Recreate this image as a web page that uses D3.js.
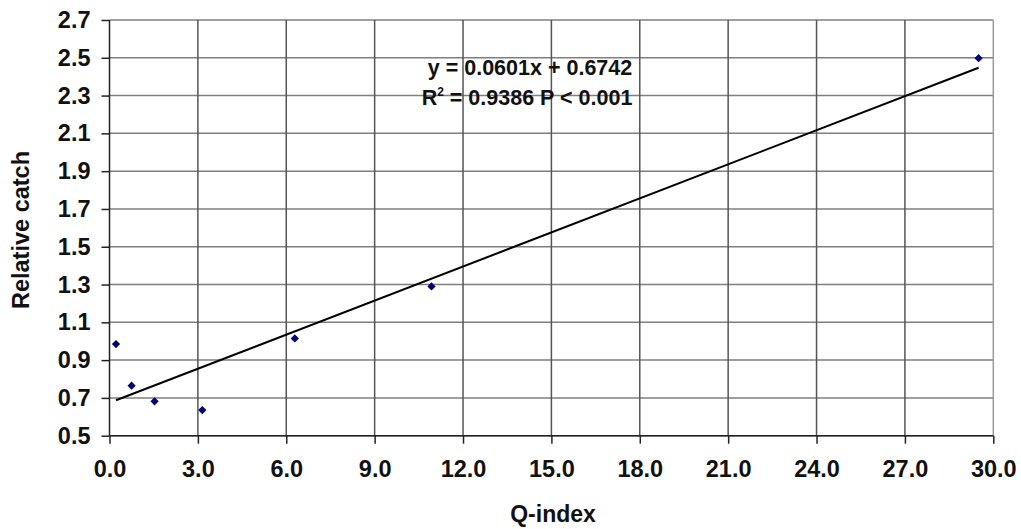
<!DOCTYPE html>
<html>
<head>
<meta charset="utf-8">
<script src="https://cdn.jsdelivr.net/npm/d3@7"></script>
<style>
body { margin: 0; background: #fff; }
text { font-family: Arial, "Liberation Sans", sans-serif; font-weight: bold; fill: #111; }
</style>
</head>
<body>
<svg id="chart" width="1021" height="529"></svg>
<script>
// data
var qIndex = [0.22, 0.75, 1.53, 3.15, 6.29, 10.93, 29.5];
var relCatch = [0.985, 0.765, 0.682, 0.636, 1.015, 1.29, 2.498];
var xTicks = [0, 3, 6, 9, 12, 15, 18, 21, 24, 27, 30];
var yTicks = [0.5, 0.7, 0.9, 1.1, 1.3, 1.5, 1.7, 1.9, 2.1, 2.3, 2.5, 2.7];
var slope = 0.0601;
var intercept = 0.6742;

var svg = d3.select("#chart");

var plotLeft = 109.5, plotRight = 993.3, plotTop = 20, plotBottom = 435.7;

var xScale = d3.scaleLinear()
.domain([0, 30])
.range([plotLeft, plotRight]);

var yScale = d3.scaleLinear()
.domain([0.5, 2.7])
.range([plotBottom, plotTop]);

// gridlines
svg.append("g")
.selectAll("line")
.data(yTicks)
.enter()
.append("line")
.attr("x1", plotLeft)
.attr("x2", plotRight)
.attr("y1", function(d){ return yScale(d); })
.attr("y2", function(d){ return yScale(d); })
.attr("stroke", "#7f7f7f")
.attr("stroke-width", 1.5);

svg.append("g")
.selectAll("line")
.data(xTicks.slice(1))
.enter()
.append("line")
.attr("x1", function(d){ return xScale(d); })
.attr("x2", function(d){ return xScale(d); })
.attr("y1", plotTop)
.attr("y2", plotBottom)
.attr("stroke", function(d){ return d == 30 ? "#9a9a9a" : "#555"; })
.attr("stroke-width", 1.5);

// axes
var yAxis = d3.axisLeft(yScale)
.tickValues(yTicks)
.tickFormat(d3.format(".1f"))
.tickSize(8)
.tickPadding(11);

var xAxis = d3.axisBottom(xScale)
.tickValues(xTicks)
.tickFormat(d3.format(".1f"))
.tickSize(8)
.tickPadding(17);

var gy = svg.append("g")
.attr("transform", "translate(" + plotLeft + ",0)")
.call(yAxis);

var gx = svg.append("g")
.attr("transform", "translate(0," + plotBottom + ")")
.call(xAxis);

[gx, gy].forEach(function(g){
    g.attr("font-size", null).attr("font-family", null);
    g.select(".domain").attr("stroke", "#222").attr("stroke-width", 1.5);
    g.selectAll(".tick line").attr("stroke", "#222").attr("stroke-width", 1.5);
    g.selectAll(".tick text")
    .style("font-size", "23.5px")
    .attr("fill", "#111");
});
gy.select(".domain").attr("d", "M0," + plotBottom + "V" + plotTop);
gx.select(".domain").attr("d", "M" + plotLeft + ",0H" + plotRight);

// trend line
var lineX = [d3.min(qIndex), d3.max(qIndex)];
svg.append("line")
.attr("x1", xScale(lineX[0]))
.attr("y1", yScale(slope * lineX[0] + intercept))
.attr("x2", xScale(lineX[1]))
.attr("y2", yScale(slope * lineX[1] + intercept))
.attr("stroke", "#000")
.attr("stroke-width", 2);

// points (square turned 45deg)
svg.append("g")
.selectAll("path")
.data(qIndex)
.enter()
.append("path")
.attr("d", d3.symbol().type(d3.symbolSquare).size(34))
.attr("transform", function(d, i){ return "translate(" + xScale(d) + "," + yScale(relCatch[i]) + ") rotate(45)"; })
.attr("fill", "#000080");

// equation
svg.append("text")
.attr("x", 530)
.attr("y", 75)
.attr("text-anchor", "middle")
.style("font-size", "21.5px")
.text("y = 0.0601x + 0.6742");

var eq2 = svg.append("text")
.attr("x", 527)
.attr("y", 105)
.attr("text-anchor", "middle")
.style("font-size", "21.5px");
eq2.append("tspan").text("R");
eq2.append("tspan").attr("dy", -9).style("font-size", "12px").text("2");
eq2.append("tspan").attr("dy", 9).text(" = 0.9386 P < 0.001");

// axis titles
svg.append("text")
.attr("x", 553)
.attr("y", 522)
.attr("text-anchor", "middle")
.style("font-size", "23px")
.text("Q-index");

svg.append("text")
.attr("transform", "translate(29,230) rotate(-90)")
.attr("text-anchor", "middle")
.style("font-size", "23.5px")
.text("Relative catch");
</script>
</body>
</html>
